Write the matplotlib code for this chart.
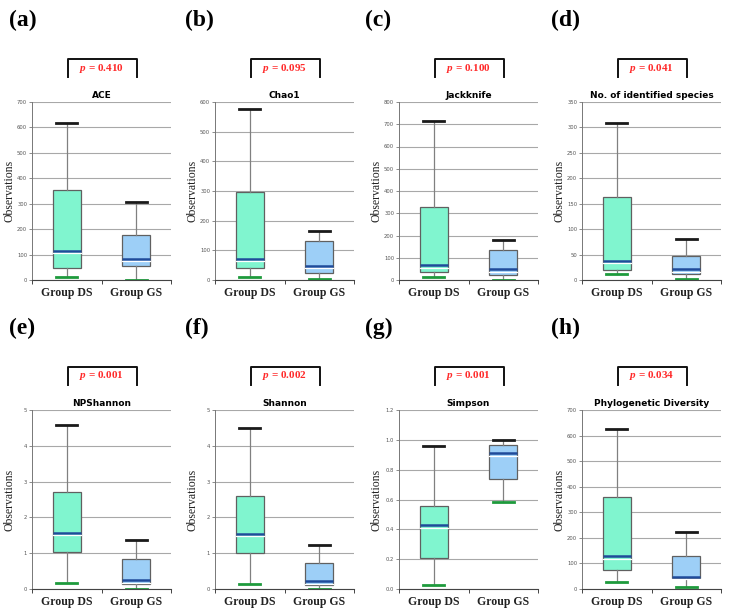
import numpy as np
import matplotlib
matplotlib.use("Agg")
import matplotlib.pyplot as plt
import matplotlib.transforms as mtransforms

plt.rcParams["mathtext.fontset"] = "custom"
plt.rcParams["mathtext.it"] = "Liberation Serif:italic:bold"
plt.rcParams["mathtext.rm"] = "Liberation Serif:bold"

# ---- data: whisker low, Q1, median, Q3, whisker high ----
panels = ["(a)", "(b)", "(c)", "(d)", "(e)", "(f)", "(g)", "(h)"]
titles = ["ACE", "Chao1", "Jackknife", "No. of identified species",
          "NPShannon", "Shannon", "Simpson", "Phylogenetic Diversity"]
pvals = ["0.410", "0.095", "0.100", "0.041", "0.001", "0.002", "0.001", "0.034"]
groups = ["Group DS", "Group GS"]

ds_stats = [
    [12, 46, 115, 355, 617],
    [11, 39, 72, 295, 577],
    [12, 37, 67, 329, 713],
    [11, 20, 38, 164, 309],
    [0.18, 1.04, 1.57, 2.71, 4.59],
    [0.14, 1.01, 1.54, 2.61, 4.49],
    [0.03, 0.21, 0.428, 0.557, 0.958],
    [26, 73, 128, 358, 626],
]
gs_stats = [
    [1, 54, 84, 178, 306],
    [2, 22, 48, 130, 166],
    [1, 22, 48, 135, 179],
    [1, 12, 21, 48, 80],
    [0.01, 0.15, 0.25, 0.83, 1.36],
    [0.01, 0.12, 0.22, 0.74, 1.23],
    [0.582, 0.739, 0.911, 0.967, 1.0],
    [8, 44, 48, 129, 221],
]
ymax = [700, 600, 800, 350, 5, 5, 1.2, 700]
ystep = [100, 100, 100, 50, 1, 1, 0.2, 100]

box_colors = ["#80f5cf", "#9dcff7"]

W, H = 732, 615
fig = plt.figure(figsize=(W / 100, H / 100), dpi=100)

lefts = [32, 215, 399, 582]
row_top = [102, 410]
row_bot = [280, 589]
label_x = [9, 185, 365, 551]
label_y = [20, 328]

serif = ["Liberation Serif", "DejaVu Serif"]
narrow = ["Liberation Sans Narrow", "DejaVu Sans"]

for i in range(8):
    r, c = divmod(i, 4)
    ax = fig.add_axes([lefts[c] / W, 1 - row_bot[r] / H,
                       139 / W, (row_bot[r] - row_top[r]) / H])
    stats = []
    for s, lab in zip((ds_stats[i], gs_stats[i]), groups):
        lo, q1, med, q3, hi = s
        stats.append(dict(whislo=lo, q1=q1, med=med, q3=q3, whishi=hi,
                          fliers=[], label=lab))
    bp = ax.bxp(stats, positions=[0.5, 1.5], widths=0.4, patch_artist=True,
                showfliers=False, capwidths=0.3,
                boxprops=dict(edgecolor="#606060", linewidth=0.9),
                whiskerprops=dict(color="#808080", linewidth=0.9),
                medianprops=dict(color="#1f4b9a", linewidth=1.8),
                capprops=dict(linewidth=2.0))
    for patch, col in zip(bp["boxes"], box_colors):
        patch.set_facecolor(col)
    for k, cap in enumerate(bp["caps"]):
        cap.set_color("#1a1a1a" if k % 2 else "#1e9a3c")
    # white highlight just under each median line
    off = mtransforms.offset_copy(ax.transData, fig=fig, x=0, y=-1.8, units="points")
    for med in bp["medians"]:
        xd, yd = med.get_data()
        ax.plot(xd, yd, color="white", lw=0.9, transform=off, zorder=3)

    ax.set_xlim(0, 2)
    ax.set_ylim(0, ymax[i])
    yt = np.arange(0, ymax[i] + ystep[i] / 2, ystep[i])
    ax.set_yticks(yt)
    if i == 6:
        ax.set_yticklabels([f"{v:.1f}" for v in yt])
    else:
        ax.set_yticklabels([f"{v:g}" for v in yt])
    ax.tick_params(axis="y", labelsize=3.8, labelcolor="#555555", color="#777777",
                   length=2, width=0.6, pad=1.5)
    ax.yaxis.grid(True, color="#a8a8a8", linewidth=0.8)
    ax.set_axisbelow(True)

    ax.set_xticks([0, 1, 2])
    ax.set_xticklabels([])
    ax.set_xticks([0.5, 1.5], minor=True)
    ax.set_xticklabels(groups, minor=True, fontsize=8.5, fontweight="bold",
                       family=serif, color="#222222")
    ax.tick_params(axis="x", which="major", length=3, width=0.7, color="#444444")
    ax.tick_params(axis="x", which="minor", length=0, pad=5)

    for sp in ["top", "right"]:
        ax.spines[sp].set_visible(False)
    ax.spines["left"].set_color("#777777")
    ax.spines["left"].set_linewidth(0.7)
    ax.spines["bottom"].set_color("#444444")
    ax.spines["bottom"].set_linewidth(0.8)

    ax.set_ylabel("Observations", family=serif, fontsize=8.5, color="#222222")
    ax.yaxis.set_label_coords(-0.118, 0.5)
    ax.set_title(titles[i], family=narrow, fontsize=6.5, fontweight="bold", pad=3)

    # significance bracket
    ax.plot([0.52, 0.52, 1.51, 1.51], [1.14, 1.24, 1.24, 1.14], color="#111111",
            lw=1.4, transform=ax.get_xaxis_transform(), clip_on=False)
    ax.text(1.0, 1.19, "$p$ = " + pvals[i], transform=ax.get_xaxis_transform(),
            ha="center", va="center", color="#ff2a2a", fontsize=8, fontweight="bold",
            family=serif)

    fig.text(label_x[c] / W, 1 - label_y[r] / H, panels[i], ha="left", va="center",
             fontsize=17, fontweight="bold", family=serif)

fig.savefig("out.png", dpi=100)
